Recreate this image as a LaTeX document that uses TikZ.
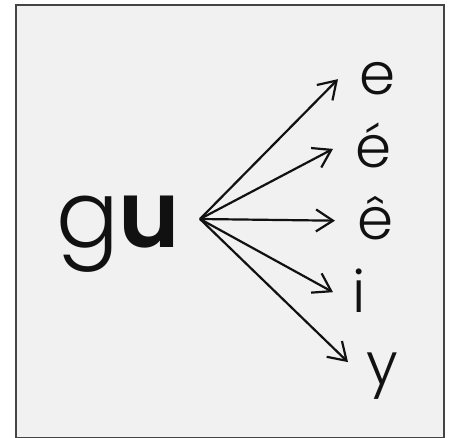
\documentclass[tikz,border=0pt]{standalone}
\usepackage{fontspec}
\setmainfont{Poppins Light}
\newfontfamily\heavyfont{Poppins SemiBold}
\usetikzlibrary{arrows.meta}
\definecolor{panel}{HTML}{F1F1F1}
\definecolor{frame}{HTML}{444444}
\definecolor{ink}{HTML}{111111}
\tikzset{
  letter/.style={anchor=base west, inner sep=0pt, text=ink, font=\fontsize{58}{58}\selectfont},
  stem/.style={anchor=base west, inner sep=0pt, text=ink, font=\fontsize{93}{93}\selectfont},
  fanarrow/.style={-{Straight Barb[length=17pt,width=22pt,line width=2.2pt]}, draw=ink, line width=2.2pt}
}
\begin{document}
\begin{tikzpicture}[x=1pt,y=-1pt]
  \useasboundingbox (0,0) rectangle (456,438);
  \fill[white] (0,0) rectangle (456,438);
  \draw[fill=panel, draw=frame, line width=2pt] (16,5) rectangle (444,438);

  % word and its possible next vowels
  \node[stem] (gu) at (56,248) {g{\heavyfont u}};
  \coordinate (fan) at (200,219);

  \node[letter] (e) at (359,95) {e};
  \node[letter] (eacute) at (355,168) {é};
  \node[letter] (ecirc) at (357,240) {ê};
  \node[letter] (i) at (352,313) {i};
  \node[letter] (y) at (366,385) {y};

  \draw[fanarrow] (fan) -- ([xshift=-21pt]e.west);
  \draw[fanarrow] (fan) -- ([xshift=-22pt,yshift=-3pt]eacute.west);
  \draw[fanarrow] (fan) -- ([xshift=-22pt,yshift=-2pt]ecirc.west);
  \draw[fanarrow] (fan) -- ([xshift=-19pt,yshift=-1pt]i.west);
  \draw[fanarrow] (fan) -- ([xshift=-18pt,yshift=-9pt]y.north west);
\end{tikzpicture}
\end{document}
